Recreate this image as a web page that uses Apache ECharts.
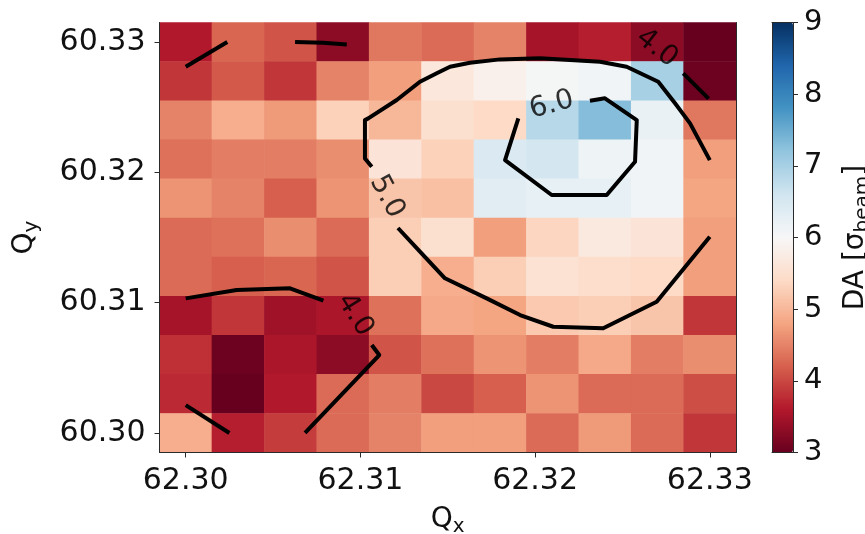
<!DOCTYPE html>
<html>
<head>
<meta charset="utf-8">
<script src="https://cdn.jsdelivr.net/npm/echarts@6/dist/echarts.min.js"></script>
<style>
  html, body { margin: 0; padding: 0; background: #ffffff; }
  #chart { width: 865px; height: 534px; }
</style>
</head>
<body>
<div id="chart"></div>
<script>
// Tune scan grid: horizontal tune Qx, vertical tune Qy (rows listed top to bottom)
const qx = [62.300, 62.303, 62.306, 62.309, 62.312, 62.315, 62.318, 62.321, 62.324, 62.327, 62.330];
const qy = [60.330, 60.327, 60.324, 60.321, 60.318, 60.315, 60.312, 60.309, 60.306, 60.303, 60.300];

// Dynamic aperture in units of sigma_beam, one row per Qy value (same order as qy)
const da = [
  [3.60, 4.25, 4.10, 3.30, 4.40, 4.30, 4.50, 3.50, 3.65, 3.30, 3.00],
  [3.85, 4.15, 3.85, 4.50, 4.75, 5.65, 5.85, 6.05, 6.10, 7.00, 3.05],
  [4.50, 4.90, 4.70, 5.30, 5.00, 5.50, 5.40, 6.85, 7.30, 6.20, 4.40],
  [4.35, 4.45, 4.45, 4.60, 5.60, 5.30, 6.45, 6.55, 6.15, 6.10, 4.75],
  [4.65, 4.50, 4.20, 4.65, 5.15, 5.10, 6.35, 6.25, 6.25, 6.10, 4.80],
  [4.30, 4.35, 4.60, 4.30, 5.25, 5.50, 4.75, 5.35, 5.70, 5.60, 4.75],
  [4.30, 4.20, 4.25, 4.10, 5.25, 4.90, 5.25, 5.55, 5.45, 5.40, 4.75],
  [3.50, 3.85, 3.45, 3.55, 4.35, 4.85, 4.80, 5.20, 5.25, 5.15, 3.85],
  [3.80, 3.05, 3.55, 3.30, 4.10, 4.35, 4.65, 4.45, 4.85, 4.45, 4.60],
  [3.75, 3.00, 3.60, 4.30, 4.45, 4.00, 4.20, 4.65, 4.30, 4.30, 4.05],
  [4.90, 3.65, 3.90, 4.30, 4.50, 4.75, 4.75, 4.30, 4.70, 4.30, 3.85]
];

// Axis ticks
const xTicks = [62.30, 62.31, 62.32, 62.33];
const yTicks = [60.30, 60.31, 60.32, 60.33];
const cbarTicks = [3, 4, 5, 6, 7, 8, 9];

// Iso-DA contour segments as [Qx, Qy] vertices
const contour4 = [
  [[62.30000, 60.32810], [62.30238, 60.33000]],
  [[62.30626, 60.33000], [62.30786, 60.32995], [62.30922, 60.32982]],
  [[62.32848, 60.32760], [62.32993, 60.32566]],
  [[62.30000, 60.31033], [62.30292, 60.31097], [62.30597, 60.31110], [62.30788, 60.31015]],
  [[62.31065, 60.30675], [62.31108, 60.30598], [62.30683, 60.30000]],
  [[62.30000, 60.30214], [62.30250, 60.30000]]
];
const contour5 = [
  [[62.31065, 60.32043], [62.31026, 60.32107], [62.31026, 60.32401], [62.31045, 60.32414],
   [62.31208, 60.32555], [62.31341, 60.32695], [62.31437, 60.32760], [62.31513, 60.32810],
   [62.31627, 60.32841], [62.31799, 60.32867], [62.32028, 60.32875], [62.32372, 60.32849],
   [62.32524, 60.32810], [62.32705, 60.32695], [62.32801, 60.32530], [62.32887, 60.32376],
   [62.33000, 60.32094]],
  [[62.31215, 60.31573], [62.31341, 60.31391], [62.31484, 60.31187], [62.31723, 60.31033],
   [62.31914, 60.30905], [62.32104, 60.30815], [62.32390, 60.30803], [62.32696, 60.31007],
   [62.33000, 60.31506]]
];
const contour6 = [
  [[62.32314, 60.32549], [62.32400, 60.32568], [62.32582, 60.32401], [62.32572, 60.32081],
   [62.32410, 60.31826], [62.32095, 60.31826], [62.31828, 60.32094], [62.31904, 60.32414]]
];

// Inline contour labels: level and anchor [Qx, Qy]
const contourLevels = [4.0, 4.0, 5.0, 6.0];
const contourLabelAt = [[62.32696, 60.32952], [62.30969, 60.30905], [62.31151, 60.31813], [62.32095, 60.32517]];
const contourLabelAngle = [-38, -58, -62, 15];

// RdBu colour ramp, low to high
const rdbu = ['#67001f', '#b2182b', '#d6604d', '#f4a582', '#fddbc7', '#f7f7f7',
              '#d1e5f0', '#92c5de', '#4393c3', '#2166ac', '#053061'];

const FONT = 'DejaVu Sans';
const INK = '#111111';
const FRAME = '#2a2a2a';

const plot = { left: 159.5, top: 22.5, width: 576.5, height: 430 };
const cbar = { left: 772, top: 22.5, width: 21, height: 430 };

const heatData = [];
for (let r = 0; r < qy.length; r++) {
  for (let c = 0; c < qx.length; c++) {
    heatData.push([c, r, da[r][c]]);
  }
}

const lineSeries = [];
[contour4, contour5, contour6].forEach(function (segs) {
  segs.forEach(function (seg) {
    lineSeries.push({
      type: 'line', xAxisIndex: 2, yAxisIndex: 2,
      data: seg, showSymbol: false, symbol: 'none', silent: true,
      lineStyle: { color: '#000', width: 4, join: 'round', cap: 'butt' },
      z: 5, animation: false
    });
  });
});

const labelSeries = {
  type: 'scatter', xAxisIndex: 2, yAxisIndex: 2, symbolSize: 0, silent: true, z: 6,
  data: contourLabelAt.map(function (p, i) {
    return {
      value: p,
      label: {
        show: true, position: 'inside', rotate: contourLabelAngle[i],
        formatter: contourLevels[i].toFixed(1),
        fontFamily: FONT, fontSize: 28, color: '#000'
      }
    };
  }),
  animation: false
};

const sub = function (main, s) { return '{m|' + main + '}{s|' + s + '}'; };
const richName = {
  m: { fontFamily: FONT, fontSize: 28, color: INK, lineHeight: 34 },
  s: { fontFamily: FONT, fontSize: 20, color: INK, lineHeight: 20, verticalAlign: 'bottom' }
};

const chart = echarts.init(document.getElementById('chart'), null, { renderer: 'canvas' });
chart.setOption({
  animation: false,
  backgroundColor: '#ffffff',
  grid: [
    Object.assign({ outerBoundsMode: 'none' }, plot),
    Object.assign({ outerBoundsMode: 'none' }, plot),
    Object.assign({ outerBoundsMode: 'none' }, plot),
    Object.assign({ outerBoundsMode: 'none' }, cbar)
  ],
  xAxis: [
    // heatmap cells
    { gridIndex: 0, type: 'category', data: qx.map(String), position: 'bottom',
      axisLine: { show: false }, axisTick: { show: false }, axisLabel: { show: false }, splitLine: { show: false } },
    // top frame edge
    { gridIndex: 1, type: 'value', min: 0, max: 1, position: 'top', z: 10,
      axisLine: { show: true, lineStyle: { color: FRAME, width: 1 } },
      axisTick: { show: false }, axisLabel: { show: false }, splitLine: { show: false } },
    // Qx axis
    { gridIndex: 2, type: 'value', min: 62.2985, max: 62.3315, position: 'bottom', z: 10,
      name: sub('Q', 'x'), nameLocation: 'middle', nameGap: 50,
      nameTextStyle: { rich: richName },
      axisLine: { show: true, onZero: false, lineStyle: { color: FRAME, width: 1 } },
      axisTick: { show: true, customValues: xTicks, length: 5, lineStyle: { color: FRAME, width: 1 } },
      axisLabel: { show: true, customValues: xTicks, margin: 14, fontFamily: FONT, fontSize: 30, color: INK,
                   formatter: function (v) { return v.toFixed(2); } },
      splitLine: { show: false } },
    // colour bar bottom / top edges
    { gridIndex: 3, type: 'value', min: 0, max: 1, position: 'bottom', z: 10,
      axisLine: { show: true, onZero: false, lineStyle: { color: FRAME, width: 1 } },
      axisTick: { show: false }, axisLabel: { show: false }, splitLine: { show: false } },
    { gridIndex: 3, type: 'value', min: 0, max: 1, position: 'top', z: 10,
      axisLine: { show: true, onZero: false, lineStyle: { color: FRAME, width: 1 } },
      axisTick: { show: false }, axisLabel: { show: false }, splitLine: { show: false } }
  ],
  yAxis: [
    { gridIndex: 0, type: 'category', data: qy.map(String), inverse: true,
      axisLine: { show: false }, axisTick: { show: false }, axisLabel: { show: false }, splitLine: { show: false } },
    // right frame edge
    { gridIndex: 1, type: 'value', min: 0, max: 1, position: 'right', z: 10,
      axisLine: { show: true, onZero: false, lineStyle: { color: FRAME, width: 1 } },
      axisTick: { show: false }, axisLabel: { show: false }, splitLine: { show: false } },
    // Qy axis
    { gridIndex: 2, type: 'value', min: 60.2985, max: 60.3315, position: 'left', z: 10,
      name: sub('Q', 'y'), nameLocation: 'middle', nameGap: 118, nameRotate: 90,
      nameTextStyle: { rich: richName },
      axisLine: { show: true, onZero: false, lineStyle: { color: FRAME, width: 1 } },
      axisTick: { show: true, customValues: yTicks, length: 5, lineStyle: { color: FRAME, width: 1 } },
      axisLabel: { show: true, customValues: yTicks, margin: 14, fontFamily: FONT, fontSize: 30, color: INK,
                   formatter: function (v) { return v.toFixed(2); } },
      splitLine: { show: false } },
    // colour bar scale
    { gridIndex: 3, type: 'value', min: 3, max: 9, interval: 1, position: 'right', z: 10,
      name: '{m|DA [σ}{s|beam}{m|]}', nameLocation: 'middle', nameGap: 46, nameRotate: 90,
      nameTextStyle: { rich: richName },
      axisLine: { show: true, onZero: false, lineStyle: { color: FRAME, width: 1 } },
      axisTick: { show: true, length: 5, lineStyle: { color: FRAME, width: 1 } },
      axisLabel: { show: true, margin: 11, fontFamily: FONT, fontSize: 29, color: INK,
                   customValues: cbarTicks },
      splitLine: { show: false } },
    { gridIndex: 3, type: 'value', min: 3, max: 9, position: 'left', z: 10,
      axisLine: { show: true, onZero: false, lineStyle: { color: FRAME, width: 1 } },
      axisTick: { show: false }, axisLabel: { show: false }, splitLine: { show: false } }
  ],
  visualMap: {
    type: 'continuous', min: 3, max: 9, seriesIndex: 0, calculable: false,
    orient: 'vertical', left: cbar.left, top: cbar.top, padding: 0,
    itemWidth: cbar.width, itemHeight: cbar.height, hoverLink: false, z: 1,
    inRange: { color: rdbu }, textStyle: { fontSize: 0 }
  },
  series: [
    { type: 'heatmap', xAxisIndex: 0, yAxisIndex: 0, data: heatData, silent: true, z: 2,
      emphasis: { disabled: true } }
  ].concat(lineSeries, [labelSeries])
});
</script>
</body>
</html>
